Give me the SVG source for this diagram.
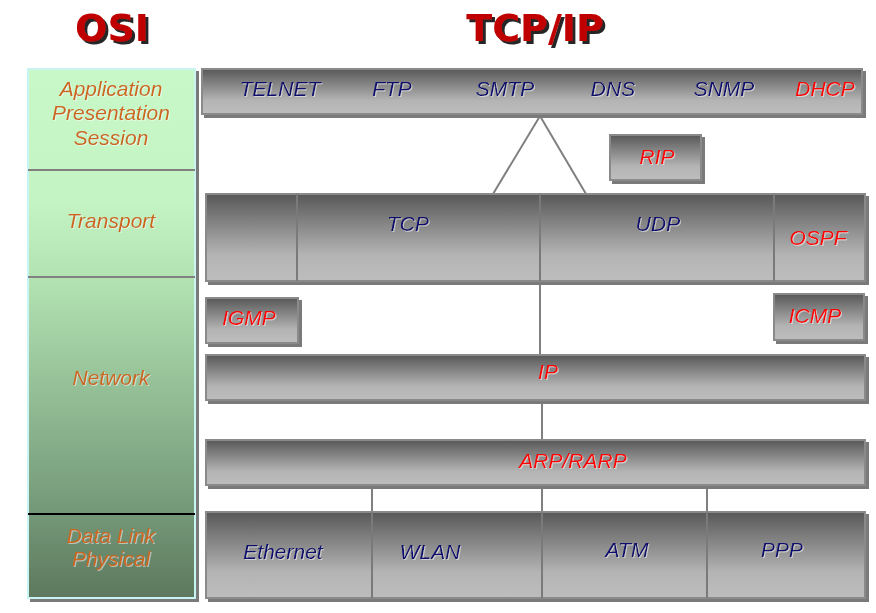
<svg xmlns="http://www.w3.org/2000/svg" width="876" height="613" viewBox="0 0 876 613">
<defs>
<linearGradient id="gray" x1="0" y1="0" x2="0" y2="1">
<stop offset="0" stop-color="#585858"/>
<stop offset="0.7" stop-color="#b4b4b4"/>
<stop offset="1" stop-color="#bdbdbd"/>
</linearGradient>
<linearGradient id="osi" gradientUnits="userSpaceOnUse" x1="0" y1="69" x2="0" y2="598">
<stop offset="0" stop-color="#c8f8c8"/>
<stop offset="0.25" stop-color="#c4f4c4"/>
<stop offset="0.4" stop-color="#b2e2b2"/>
<stop offset="0.85" stop-color="#729676"/>
<stop offset="1" stop-color="#5e785e"/>
</linearGradient>
<filter id="boxsh" x="-5%" y="-10%" width="115%" height="130%">
<feDropShadow dx="3" dy="3" stdDeviation="0.4" flood-color="#7a7a7a" flood-opacity="1"/>
</filter>
<filter id="titlesh" x="-10%" y="-20%" width="130%" height="150%">
<feDropShadow dx="3" dy="3" stdDeviation="0.6" flood-color="#000" flood-opacity="0.85"/>
</filter>
<filter id="txtsh" x="-10%" y="-20%" width="130%" height="150%">
<feDropShadow dx="1" dy="1" stdDeviation="0.5" flood-color="#ffffff" flood-opacity="0.5"/>
</filter>
</defs>
<style>
.box{fill:url(#gray);stroke:#8a8a8a;stroke-width:2;filter:url(#boxsh)}
.div{stroke:#7a7a7a;stroke-width:2;fill:none}
.con{stroke:#808080;stroke-width:2;fill:none}
.p{font-family:"Liberation Sans",Arial,sans-serif;font-style:italic;font-size:21px;fill:#0a0a6e;text-anchor:middle;filter:url(#txtsh)}
.r{fill:#ff0000}
.osi{font-family:"Liberation Sans",Arial,sans-serif;font-style:italic;font-size:21px;fill:#cc661a;text-anchor:middle;filter:url(#txtsh)}
.title{font-family:"DejaVu Sans",Verdana,sans-serif;font-weight:bold;font-size:38px;fill:#c00000;text-anchor:middle;filter:url(#titlesh)}
</style>
<rect width="876" height="613" fill="#ffffff"/>

<g id="titles">
<text class="title" x="112" y="41">OSI</text>
<text class="title" x="535" y="41">TCP/IP</text>
</g>

<g id="osi-column">
<rect x="28" y="69" width="167" height="529" fill="url(#osi)" stroke="#c8f4f4" stroke-width="2" filter="url(#boxsh)"/>
<line x1="28" y1="170" x2="195" y2="170" stroke="#808080" stroke-width="2"/>
<line x1="28" y1="277" x2="195" y2="277" stroke="#808080" stroke-width="2"/>
<line x1="28" y1="514" x2="195" y2="514" stroke="#000000" stroke-width="2"/>
<text class="osi" x="111" y="96">Application</text>
<text class="osi" x="111" y="120">Presentation</text>
<text class="osi" x="111" y="145">Session</text>
<text class="osi" x="111" y="228">Transport</text>
<text class="osi" x="111" y="385">Network</text>
<text class="osi" x="111" y="543">Data Link</text>
<text class="osi" x="111" y="566">Physical</text>
</g>

<g id="connectors">
<line class="con" x1="540" y1="116" x2="493" y2="194"/>
<line class="con" x1="540" y1="116" x2="586" y2="194"/>
<line class="con" x1="540" y1="282" x2="540" y2="355"/>
<line class="con" x1="542" y1="400" x2="542" y2="440"/>
<line class="con" x1="372" y1="485" x2="372" y2="512"/>
<line class="con" x1="542" y1="485" x2="542" y2="512"/>
<line class="con" x1="707" y1="485" x2="707" y2="512"/>
</g>

<g id="application">
<rect class="box" x="202" y="69" width="660" height="45"/>
<text class="p" x="280" y="96">TELNET</text>
<text class="p" x="392" y="96">FTP</text>
<text class="p" x="505" y="96">SMTP</text>
<text class="p" x="613" y="96">DNS</text>
<text class="p" x="724" y="96">SNMP</text>
<text class="p r" x="825" y="96">DHCP</text>
</g>

<g id="rip">
<rect class="box" x="610" y="135" width="91" height="45"/>
<text class="p r" x="657" y="164">RIP</text>
</g>

<g id="transport">
<rect class="box" x="206" y="194" width="659" height="87"/>
<line class="div" x1="297" y1="194" x2="297" y2="281"/>
<line class="div" x1="540" y1="194" x2="540" y2="281"/>
<line class="div" x1="774" y1="194" x2="774" y2="281"/>
<text class="p" x="408" y="231">TCP</text>
<text class="p" x="658" y="231">UDP</text>
<text class="p r" x="818" y="245">OSPF</text>
</g>

<g id="igmp">
<rect class="box" x="206" y="298" width="92" height="45"/>
<text class="p r" x="249" y="325">IGMP</text>
</g>

<g id="icmp">
<rect class="box" x="774" y="294" width="90" height="46"/>
<text class="p r" x="815" y="323">ICMP</text>
</g>

<g id="ip">
<rect class="box" x="206" y="355" width="659" height="45"/>
<text class="p r" x="548" y="379">IP</text>
</g>

<g id="arp">
<rect class="box" x="206" y="440" width="659" height="45"/>
<text class="p r" x="573" y="468">ARP/RARP</text>
</g>

<g id="datalink">
<rect class="box" x="206" y="512" width="659" height="86"/>
<line class="div" x1="372" y1="512" x2="372" y2="598"/>
<line class="div" x1="542" y1="512" x2="542" y2="598"/>
<line class="div" x1="707" y1="512" x2="707" y2="598"/>
<text class="p" x="283" y="559">Ethernet</text>
<text class="p" x="430" y="559">WLAN</text>
<text class="p" x="627" y="557">ATM</text>
<text class="p" x="782" y="557">PPP</text>
</g>
</svg>
